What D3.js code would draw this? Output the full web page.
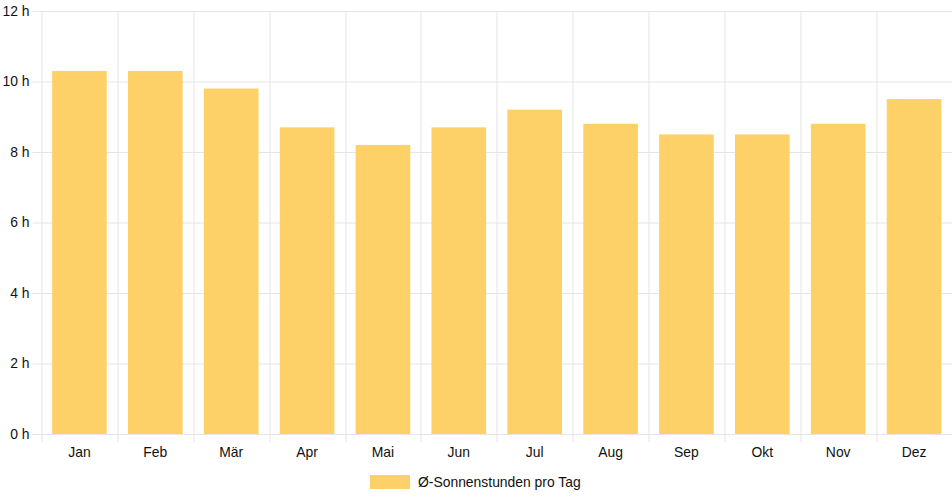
<!DOCTYPE html>
<html>
<head>
<meta charset="utf-8">
<script src="https://cdn.jsdelivr.net/npm/d3@7"></script>
<style>
    body { margin: 0; background: #fff; }
    svg { display: block; font-family: "Liberation Sans", Arial, sans-serif; }
</style>
</head>
<body>
<svg id="chart" width="952" height="500"></svg>
<script>
// monthly average sunshine hours
const months = ["Jan", "Feb", "Mär", "Apr", "Mai", "Jun", "Jul", "Aug", "Sep", "Okt", "Nov", "Dez"];
const sunHours = [10.3, 10.3, 9.8, 8.7, 8.2, 8.7, 9.2, 8.8, 8.5, 8.5, 8.8, 9.5];
const yTicks = [0, 2, 4, 6, 8, 10, 12];
const seriesName = "Ø-Sonnenstunden pro Tag";

let margin = { top: 11, right: 0, bottom: 66, left: 41.5 };
let svg = d3.select("#chart");
let width = svg.attr("width") - margin.left - margin.right;
let height = svg.attr("height") - margin.top - margin.bottom;
let barColor = "#fed168";
let gridColor = "#e5e5e5";
let fontSize = 13.9;

let g = svg.append("g")
    .attr("transform", "translate(" + margin.left + "," + margin.top + ")");

let xScale = d3.scaleBand()
    .domain(months)
    .range([0, width]);

let yScale = d3.scaleLinear()
    .domain([0, 12])
    .range([height, 0]);

// horizontal grid lines + y ticks
g.append("g")
    .selectAll("line")
    .data(yTicks)
    .enter().append("line")
    .attr("x1", -9)
    .attr("x2", width)
    .attr("y1", d => yScale(d) + 0.5)
    .attr("y2", d => yScale(d) + 0.5)
    .attr("stroke", gridColor)
    .attr("stroke-width", 1);

// vertical grid lines at category boundaries
let bounds = months.map(m => xScale(m)).concat([width]);
g.append("g")
    .selectAll("line")
    .data(bounds)
    .enter().append("line")
    .attr("x1", d => Math.round(d) + 0.5)
    .attr("x2", d => Math.round(d) + 0.5)
    .attr("y1", 0)
    .attr("y2", height + 8)
    .attr("stroke", gridColor)
    .attr("stroke-width", 1);

// bars (72% of category width)
let barW = xScale.bandwidth() * 0.72;
g.append("g")
    .selectAll("rect")
    .data(sunHours)
    .enter().append("rect")
    .attr("x", (d, i) => xScale(months[i]) + (xScale.bandwidth() - barW) / 2)
    .attr("y", d => yScale(d))
    .attr("width", barW)
    .attr("height", d => height - yScale(d))
    .attr("fill", barColor);

// y axis labels
let yAxis = d3.axisLeft(yScale)
    .tickValues(yTicks)
    .tickFormat(d => d + " h")
    .tickSize(0)
    .tickPadding(12);
let yAxisGroup = g.append("g").call(yAxis);
yAxisGroup.select(".domain").remove();
yAxisGroup.selectAll("text")
    .attr("font-size", fontSize)
    .attr("fill", "#111")
    .attr("font-family", "Liberation Sans, Arial, sans-serif");

// x axis labels
let xAxis = d3.axisBottom(xScale)
    .tickSize(0)
    .tickPadding(13.5);
let xAxisGroup = g.append("g")
    .attr("transform", "translate(0," + height + ")")
    .call(xAxis);
xAxisGroup.select(".domain").remove();
xAxisGroup.selectAll("text")
    .attr("font-size", fontSize)
    .attr("fill", "#111")
    .attr("font-family", "Liberation Sans, Arial, sans-serif");

// legend
let legend = svg.append("g").attr("transform", "translate(370,475)");
legend.append("rect")
    .attr("width", 40)
    .attr("height", 14)
    .attr("fill", barColor);
legend.append("text")
    .attr("x", 48)
    .attr("y", 7)
    .attr("dy", "0.35em")
    .attr("font-size", fontSize)
    .attr("fill", "#111")
    .text(seriesName);
</script>
</body>
</html>
